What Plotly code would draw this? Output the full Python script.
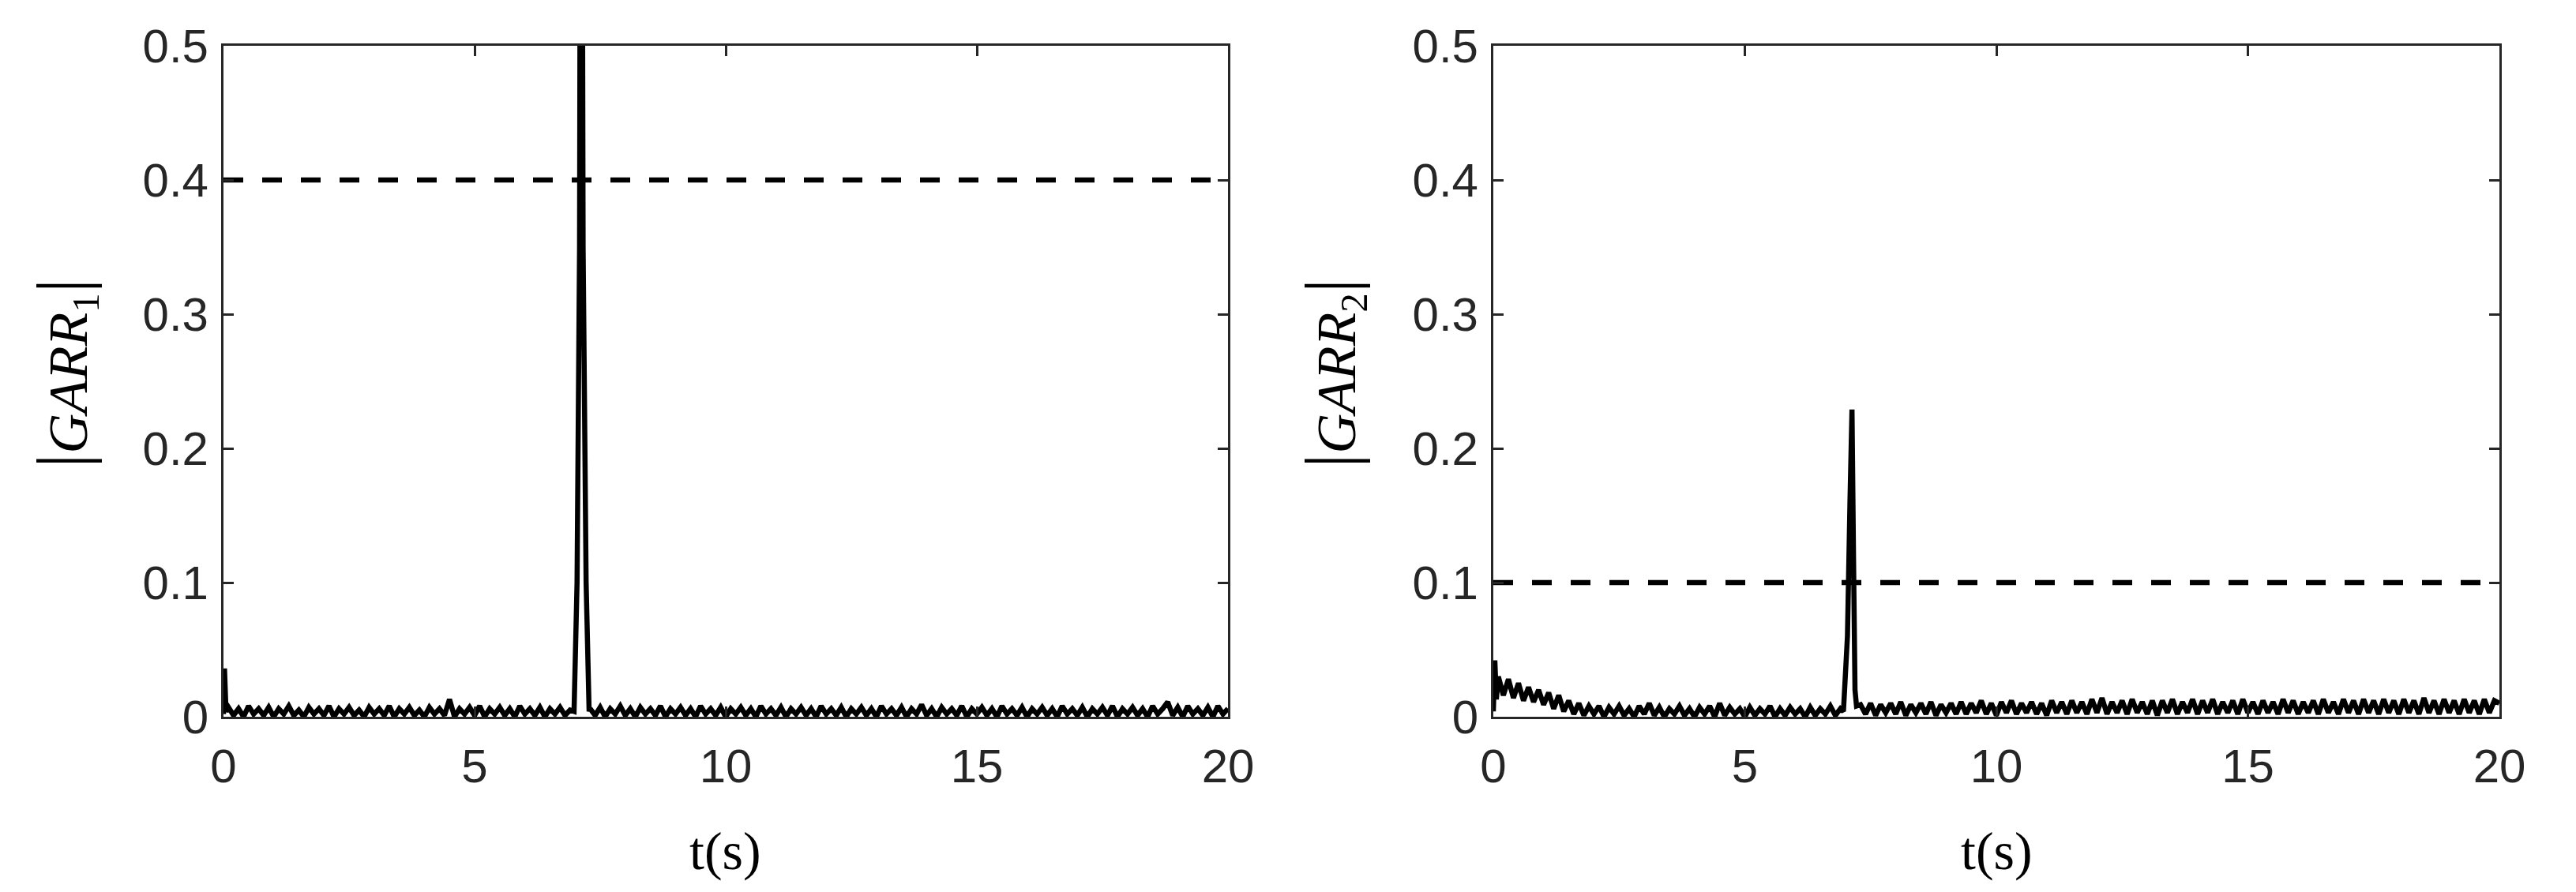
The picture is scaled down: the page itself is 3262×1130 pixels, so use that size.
import plotly.graph_objects as go

# ---------------- data ----------------
T_PRE = [0.1, 0.2, 0.3, 0.4, 0.5, 0.6, 0.7, 0.8, 0.9, 1.0,
         1.1, 1.2, 1.3, 1.4, 1.5, 1.6, 1.7, 1.8, 1.9, 2.0,
         2.1, 2.2, 2.3, 2.4, 2.5, 2.6, 2.7, 2.8, 2.9, 3.0,
         3.1, 3.2, 3.3, 3.4, 3.5, 3.6, 3.7, 3.8, 3.9, 4.0,
         4.1, 4.2, 4.3, 4.4, 4.5, 4.6, 4.7, 4.8, 4.9, 5.0,
         5.1, 5.2, 5.3, 5.4, 5.5, 5.6, 5.7, 5.8, 5.9, 6.0,
         6.1, 6.2, 6.3, 6.4, 6.5, 6.6, 6.7, 6.8, 6.9]
T_POST = [7.3, 7.4, 7.5, 7.6, 7.7, 7.8, 7.9, 8.0, 8.1, 8.2,
          8.3, 8.4, 8.5, 8.6, 8.7, 8.8, 8.9, 9.0, 9.1, 9.2,
          9.3, 9.4, 9.5, 9.6, 9.7, 9.8, 9.9, 10.0, 10.1, 10.2,
          10.3, 10.4, 10.5, 10.6, 10.7, 10.8, 10.9, 11.0, 11.1, 11.2,
          11.3, 11.4, 11.5, 11.6, 11.7, 11.8, 11.9, 12.0, 12.1, 12.2,
          12.3, 12.4, 12.5, 12.6, 12.7, 12.8, 12.9, 13.0, 13.1, 13.2,
          13.3, 13.4, 13.5, 13.6, 13.7, 13.8, 13.9, 14.0, 14.1, 14.2,
          14.3, 14.4, 14.5, 14.6, 14.7, 14.8, 14.9, 15.0, 15.1, 15.2,
          15.3, 15.4, 15.5, 15.6, 15.7, 15.8, 15.9, 16.0, 16.1, 16.2,
          16.3, 16.4, 16.5, 16.6, 16.7, 16.8, 16.9, 17.0, 17.1, 17.2,
          17.3, 17.4, 17.5, 17.6, 17.7, 17.8, 17.9, 18.0, 18.1, 18.2,
          18.3, 18.4, 18.5, 18.6, 18.7, 18.8, 18.9, 19.0, 19.1, 19.2,
          19.3, 19.4, 19.5, 19.6, 19.7, 19.8, 19.9, 20.0]

# |GARR1|
T1_START = [0.0, 0.02, 0.05]
G1_START = [0.002, 0.036, 0.004]
G1_PRE = [0.007, 0.001, 0.006, 0.000, 0.008, 0.002, 0.006, 0.001, 0.007, 0.000,
          0.006, 0.002, 0.008, 0.001, 0.005, 0.000, 0.007, 0.002, 0.006, 0.001,
          0.008, 0.000, 0.006, 0.002, 0.007, 0.001, 0.005, 0.000, 0.007, 0.002,
          0.006, 0.001, 0.008, 0.000, 0.006, 0.002, 0.007, 0.001, 0.005, 0.000,
          0.007, 0.002, 0.006, 0.001, 0.013, 0.000, 0.006, 0.002, 0.007, 0.001,
          0.008, 0.000, 0.006, 0.002, 0.007, 0.001, 0.006, 0.000, 0.008, 0.002,
          0.006, 0.001, 0.007, 0.000, 0.006, 0.002, 0.007, 0.001, 0.005]
T1_SPIKE = [6.98, 7.04, 7.09, 7.12, 7.16, 7.22, 7.28]
G1_SPIKE = [0.004, 0.1, 0.35, 1.0, 0.35, 0.1, 0.004]
G1_POST = [0.006, 0.001, 0.007, 0.000, 0.006, 0.002, 0.008, 0.001, 0.006, 0.000,
           0.007, 0.002, 0.006, 0.001, 0.008, 0.000, 0.006, 0.002, 0.007, 0.001,
           0.006, 0.000, 0.008, 0.002, 0.006, 0.001, 0.007, 0.000, 0.006, 0.002,
           0.007, 0.001, 0.006, 0.000, 0.008, 0.002, 0.006, 0.001, 0.007, 0.000,
           0.006, 0.002, 0.007, 0.001, 0.006, 0.000, 0.008, 0.002, 0.006, 0.001,
           0.007, 0.000, 0.006, 0.002, 0.007, 0.001, 0.006, 0.000, 0.008, 0.002,
           0.006, 0.001, 0.007, 0.000, 0.006, 0.002, 0.009, 0.001, 0.006, 0.000,
           0.007, 0.002, 0.006, 0.001, 0.008, 0.000, 0.006, 0.002, 0.007, 0.001,
           0.006, 0.000, 0.008, 0.002, 0.006, 0.001, 0.007, 0.000, 0.006, 0.002,
           0.007, 0.001, 0.006, 0.000, 0.008, 0.002, 0.006, 0.001, 0.007, 0.000,
           0.006, 0.002, 0.007, 0.001, 0.008, 0.000, 0.006, 0.002, 0.007, 0.001,
           0.006, 0.000, 0.008, 0.002, 0.006, 0.011, 0.001, 0.007, 0.000, 0.008,
           0.002, 0.006, 0.001, 0.007, 0.000, 0.008, 0.002, 0.006]
THRESH1 = 0.4

# |GARR2|
T2_START = [0.0, 0.03, 0.06]
G2_START = [0.004, 0.042, 0.013]
G2_PRE = [0.030, 0.016, 0.028, 0.014, 0.025, 0.012, 0.022, 0.011, 0.020, 0.009,
          0.018, 0.006, 0.016, 0.004, 0.012, 0.002, 0.010, 0.001, 0.008, 0.002,
          0.008, 0.000, 0.007, 0.002, 0.008, 0.001, 0.006, 0.000, 0.008, 0.002,
          0.010, 0.001, 0.007, 0.000, 0.006, 0.002, 0.008, 0.001, 0.006, 0.000,
          0.007, 0.002, 0.008, 0.000, 0.010, 0.001, 0.007, 0.002, 0.006, 0.000,
          0.007, 0.001, 0.006, 0.002, 0.008, 0.000, 0.006, 0.001, 0.007, 0.002,
          0.006, 0.000, 0.007, 0.001, 0.006, 0.002, 0.008, 0.001, 0.006]
T2_SPIKE = [6.96, 7.04, 7.09, 7.13, 7.16, 7.19, 7.22]
G2_SPIKE = [0.004, 0.06, 0.16, 0.229, 0.12, 0.02, 0.008]
G2_POST = [0.009, 0.002, 0.010, 0.001, 0.009, 0.003, 0.010, 0.002, 0.011, 0.001,
           0.009, 0.003, 0.010, 0.002, 0.011, 0.001, 0.009, 0.003, 0.010, 0.002,
           0.011, 0.002, 0.010, 0.003, 0.012, 0.002, 0.010, 0.001, 0.011, 0.003,
           0.012, 0.002, 0.010, 0.003, 0.011, 0.002, 0.010, 0.001, 0.012, 0.003,
           0.011, 0.002, 0.012, 0.003, 0.011, 0.002, 0.013, 0.003, 0.014, 0.002,
           0.011, 0.003, 0.012, 0.002, 0.013, 0.003, 0.011, 0.002, 0.012, 0.001,
           0.012, 0.003, 0.013, 0.002, 0.011, 0.003, 0.013, 0.002, 0.012, 0.003,
           0.013, 0.002, 0.011, 0.003, 0.012, 0.002, 0.013, 0.003, 0.011, 0.002,
           0.012, 0.003, 0.011, 0.002, 0.013, 0.003, 0.012, 0.002, 0.011, 0.003,
           0.012, 0.002, 0.013, 0.003, 0.011, 0.002, 0.013, 0.003, 0.012, 0.002,
           0.013, 0.003, 0.012, 0.002, 0.013, 0.003, 0.012, 0.002, 0.013, 0.003,
           0.012, 0.002, 0.014, 0.003, 0.012, 0.002, 0.013, 0.003, 0.012, 0.002,
           0.013, 0.003, 0.012, 0.002, 0.013, 0.003, 0.012, 0.010]
THRESH2 = 0.1

X_RANGE = [0, 20]
Y_RANGE = [0, 0.5]
X_TICKS = [0, 5, 10, 15, 20]
Y_TICKS = [0, 0.1, 0.2, 0.3, 0.4, 0.5]
BAR = "<span style='font-size:92px'>|</span>"
Y_LABELS = [BAR + "<i>GARR</i><sub>1</sub>" + BAR, BAR + "<i>GARR</i><sub>2</sub>" + BAR]
X_LABEL = "t(s)"

# ---------------- figure ----------------
OFF = 8                      # default page body margin
W, H = 3262 - 2 * OFF, 1130 - 2 * OFF
AX = "#262626"
fig = go.Figure()

t1 = T1_START + T_PRE + T1_SPIKE + T_POST
g1 = G1_START + G1_PRE + G1_SPIKE + G1_POST
t2 = T2_START + T_PRE + T2_SPIKE + T_POST
g2 = G2_START + G2_PRE + G2_SPIKE + G2_POST

line_w = 6.5
dash_w = 6.5
dash_pat = "25px,24px"

fig.add_trace(go.Scatter(x=t1, y=g1, mode="lines", xaxis="x", yaxis="y",
                         line=dict(color="black", width=line_w, simplify=False),
                         showlegend=False))
fig.add_trace(go.Scatter(x=X_RANGE, y=[THRESH1, THRESH1], mode="lines", xaxis="x", yaxis="y",
                         line=dict(color="black", width=dash_w, dash=dash_pat),
                         showlegend=False))
fig.add_trace(go.Scatter(x=t2, y=g2, mode="lines", xaxis="x2", yaxis="y2",
                         line=dict(color="black", width=line_w, simplify=False),
                         showlegend=False))
fig.add_trace(go.Scatter(x=X_RANGE, y=[THRESH2, THRESH2], mode="lines", xaxis="x2", yaxis="y2",
                         line=dict(color="black", width=dash_w, dash=dash_pat),
                         showlegend=False))


def px_x(p):
    return (p - OFF) / W


def px_y(p):
    return 1 - (p - OFF) / H


tickfont = dict(family="Liberation Sans, Arial, sans-serif", size=60, color=AX)
common_x = dict(range=X_RANGE, tickvals=X_TICKS, showline=True, linecolor=AX, linewidth=3,
                mirror="ticks", ticks="inside", ticklen=13, tickwidth=3, tickcolor=AX,
                showgrid=False, zeroline=False, tickfont=tickfont, fixedrange=True,
                automargin=False, ticklabelstandoff=8)
common_y = dict(range=Y_RANGE, tickvals=Y_TICKS, showline=True, linecolor=AX, linewidth=3,
                mirror="ticks", ticks="inside", ticklen=13, tickwidth=3, tickcolor=AX,
                showgrid=False, zeroline=False, tickfont=tickfont, fixedrange=True,
                automargin=False, ticklabelstandoff=4)

fig.update_layout(
    template="none",
    width=W, height=H,
    margin=dict(l=0, r=0, t=0, b=0, autoexpand=False),
    paper_bgcolor="white", plot_bgcolor="white",
    xaxis=dict(domain=[px_x(283), px_x(1555)], anchor="y", **common_x),
    yaxis=dict(domain=[px_y(908), px_y(58)], anchor="x", **common_y),
    xaxis2=dict(domain=[px_x(1891), px_x(3165)], anchor="y2", **common_x),
    yaxis2=dict(domain=[px_y(908), px_y(58)], anchor="x2", **common_y),
)

title_font = dict(family="Liberation Serif, Times New Roman, serif", size=70, color="black")
for cx_px, lab in [(82, Y_LABELS[0]), (1688, Y_LABELS[1])]:
    fig.add_annotation(text=lab, xref="paper", yref="paper", x=px_x(cx_px), y=px_y(473),
                       xanchor="center", yanchor="middle", textangle=-90, showarrow=False,
                       font=title_font)
for cx_px in [918, 2528]:
    fig.add_annotation(text=X_LABEL, xref="paper", yref="paper", x=px_x(cx_px), y=px_y(1078),
                       xanchor="center", yanchor="middle", showarrow=False,
                       font=dict(family="Liberation Serif, Times New Roman, serif", size=68,
                                 color="black"))

fig.write_html("out.html")
